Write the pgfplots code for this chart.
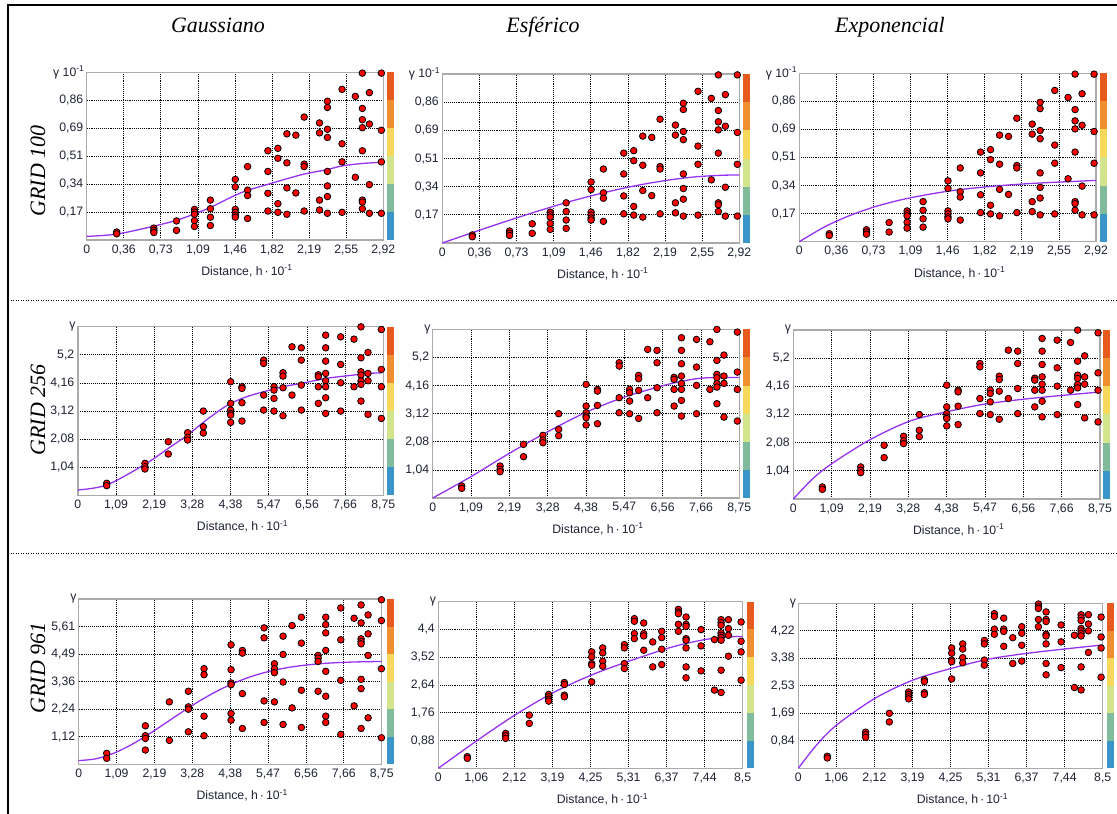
\documentclass[border=0pt]{standalone}
\usepackage{fontspec}
\setmainfont{Liberation Sans}
\newfontfamily\serifit{Liberation Serif}
\usepackage{pgfplots}
\usepackage{pgfplotstable}
\pgfplotsset{compat=1.18}
\definecolor{framegray}{RGB}{170,170,170}
\definecolor{tickcol}{RGB}{30,34,50}
\definecolor{curvecol}{RGB}{150,50,240}
\definecolor{cb1}{RGB}{58,150,200}
\definecolor{cb2}{RGB}{128,188,156}
\definecolor{cb3}{RGB}{211,229,140}
\definecolor{cb4}{RGB}{246,217,90}
\definecolor{cb5}{RGB}{239,143,47}
\definecolor{cb6}{RGB}{230,90,30}

\pgfplotstableread{
h g
0.295 0.049
0.295 0.038
0.661 0.073
0.661 0.059
0.661 0.046
0.884 0.117
0.884 0.059
1.061 0.188
1.061 0.172
1.061 0.158
1.061 0.119
1.061 0.083
1.218 0.245
1.218 0.192
1.218 0.140
1.218 0.089
1.463 0.372
1.463 0.326
1.463 0.188
1.463 0.170
1.463 0.152
1.463 0.140
1.584 0.451
1.584 0.306
1.584 0.273
1.584 0.132
1.784 0.548
1.784 0.421
1.784 0.287
1.784 0.178
1.882 0.563
1.882 0.502
1.882 0.223
1.882 0.170
1.971 0.652
1.971 0.474
1.971 0.320
1.971 0.158
2.059 0.644
2.059 0.289
2.141 0.755
2.141 0.466
2.141 0.451
2.141 0.178
2.292 0.719
2.292 0.658
2.292 0.245
2.292 0.184
2.370 0.852
2.370 0.814
2.370 0.680
2.370 0.630
2.370 0.421
2.370 0.332
2.370 0.267
2.370 0.164
2.514 0.925
2.514 0.591
2.514 0.480
2.514 0.170
2.645 0.882
2.645 0.385
2.714 1.025
2.714 0.808
2.714 0.739
2.714 0.690
2.714 0.548
2.714 0.245
2.714 0.233
2.714 0.192
2.783 0.905
2.783 0.712
2.783 0.340
2.783 0.164
2.901 1.025
2.901 0.674
2.901 0.480
2.901 0.164
}\rowone

\pgfplotstableread{
h g
0.828 0.444
0.828 0.357
1.923 1.183
1.923 1.060
1.923 0.973
2.592 1.984
2.592 1.528
3.146 2.317
3.146 2.144
3.146 2.045
3.595 3.117
3.595 2.538
3.595 2.304
4.378 4.202
4.378 3.401
4.378 3.154
4.378 3.031
4.378 2.970
4.378 2.699
4.702 4.017
4.702 3.955
4.702 3.426
4.702 2.748
5.323 5.003
5.323 4.880
5.323 3.709
5.323 3.154
5.619 4.017
5.619 3.894
5.619 3.586
5.619 3.117
5.877 4.535
5.877 4.411
5.877 3.980
5.877 2.945
6.135 5.496
6.135 3.709
6.402 5.459
6.402 5.003
6.402 4.079
6.402 3.154
6.889 4.460
6.889 4.387
6.889 4.017
6.889 3.401
7.099 5.927
7.099 5.459
7.099 4.966
7.099 4.510
7.099 4.239
7.099 4.017
7.099 3.610
7.099 3.031
7.529 5.865
7.529 4.843
7.529 4.165
7.529 3.117
7.911 5.779
7.911 4.017
8.111 6.235
8.111 5.089
8.111 4.572
8.111 4.450
8.111 4.227
8.111 4.103
8.111 3.487
8.312 5.286
8.312 4.510
8.312 4.239
8.312 2.994
8.694 6.136
8.694 4.658
8.694 4.017
8.694 2.846
}\rowtwo

\pgfplotstableread{
h g
0.809 0.446
0.809 0.243
1.926 1.568
1.926 1.162
1.926 1.054
1.926 0.581
2.619 2.541
2.619 0.973
3.168 2.973
3.168 2.338
3.168 2.243
3.168 1.324
3.620 3.892
3.620 3.649
3.620 1.960
3.620 1.162
4.400 4.865
4.400 3.851
4.400 3.311
4.400 3.243
4.400 2.068
4.400 1.797
4.727 4.635
4.727 4.527
4.727 2.878
4.727 1.459
5.353 5.554
5.353 5.149
5.353 2.581
5.353 1.703
5.652 4.095
5.652 3.892
5.652 3.730
5.652 2.541
5.902 5.216
5.902 4.473
5.902 3.351
5.902 1.622
6.162 5.649
6.162 2.297
6.431 5.987
6.431 4.933
6.431 3.014
6.431 1.500
6.913 4.433
6.913 4.324
6.913 4.189
6.913 2.973
7.134 5.987
7.134 5.689
7.134 5.351
7.134 4.635
7.134 3.784
7.134 2.770
7.134 1.960
7.134 1.703
7.568 6.365
7.568 5.068
7.568 3.419
7.568 1.216
7.953 5.946
7.953 2.378
8.155 6.487
8.155 5.757
8.155 5.108
8.155 5.000
8.155 4.905
8.155 3.459
8.155 3.081
8.155 1.459
8.357 6.081
8.357 5.311
8.357 4.433
8.357 1.892
8.742 6.700
8.742 5.851
8.742 3.892
8.742 1.081
}\gridgauss

\pgfplotstableread{
h g
0.810 0.369
0.810 0.316
1.881 1.107
1.881 1.033
1.881 0.949
2.542 1.686
2.542 1.423
3.082 2.340
3.082 2.266
3.082 2.192
3.082 2.129
3.520 2.719
3.520 2.656
3.520 2.319
3.520 2.266
4.283 3.689
4.283 3.531
4.283 3.320
4.283 3.267
4.283 2.740
4.591 3.815
4.591 3.657
4.591 3.394
4.591 3.235
5.196 3.920
5.196 3.815
5.196 3.320
5.196 3.162
5.475 4.743
5.475 4.658
5.475 4.268
5.475 4.110
5.736 4.605
5.736 4.268
5.736 4.195
5.736 3.741
5.988 4.005
5.988 3.214
6.239 4.342
6.239 4.142
6.239 3.773
6.239 3.288
6.705 5.038
6.705 4.953
6.705 4.901
6.705 4.563
6.705 4.342
6.919 4.795
6.919 4.563
6.919 4.500
6.919 4.110
6.919 4.057
6.919 3.815
6.919 3.214
6.919 2.867
7.338 4.395
7.338 3.878
7.338 3.088
7.710 4.079
7.710 2.477
7.897 4.711
7.897 4.616
7.897 4.532
7.897 4.289
7.897 4.216
7.897 4.142
7.897 4.058
7.897 3.109
7.897 2.403
8.101 4.711
8.101 4.426
8.101 4.216
8.101 3.552
8.455 4.637
8.455 4.026
8.455 3.689
8.455 2.793
}\gridthree

\pgfplotsset{
 vario/.style={
  anchor=south west, scale only axis, clip=false, xmin=0, ymin=0,
  axis line style={draw=framegray, line width=1.4bp},
  xmajorgrids, ymajorgrids,
  major grid style={black, line width=0.75bp, dash pattern=on 0.8bp off 1.1bp},
  major tick length=0pt,
  tick style={draw=none},
  ticklabel style={font=\fontsize{12.3}{14}\selectfont, text=tickcol},
  xticklabel style={yshift=-1bp},
  xlabel={Distance, h\,·\,10\textsuperscript{-1}},
  xlabel style={font=\fontsize{12.3}{14}\selectfont, text=tickcol, at={(axis description cs:0.5,0)}, anchor=center, yshift=-31bp, xshift=12bp},
 },
 pts/.style={only marks, mark=*, mark size=3.3bp, mark options={fill=red, draw=black, line width=0.8bp}},
 crv/.style={no marks, curvecol, line width=1.3bp, smooth},
 rA/.style={xmax=2.92, ymax=1.03,
  xtick={0,0.365,0.73,1.095,1.46,1.825,2.19,2.555,2.92},
  xticklabels={0,{0,36},{0,73},{1,09},{1,46},{1,82},{2,19},{2,55},{2,92}},
  ytick={0.1717,0.3433,0.515,0.6867,0.8583},
  yticklabels={{0,17},{0,34},{0,51},{0,69},{0,86}}},
 xB/.style={xmax=8.75,
  xtick={0,1.09375,2.1875,3.28125,4.375,5.46875,6.5625,7.65625,8.75},
  xticklabels={0,{1,09},{2,19},{3,28},{4,38},{5,47},{6,56},{7,66},{8,75}}},
 rB/.style={xB, ymax=6.24,
  ytick={1.04,2.08,3.12,4.16,5.2},
  yticklabels={{1,04},{2,08},{3,12},{4,16},{5,2}}},
 xC/.style={xmax=8.5,
  xtick={0,1.0625,2.125,3.1875,4.25,5.3125,6.375,7.4375,8.5},
  xticklabels={0,{1,06},{2,12},{3,19},{4,25},{5,31},{6,37},{7,44},{8,5}}},
}
\newcommand\gl[1]{\node[anchor=east, inner sep=2bp, font=\fontsize{12.3}{14}\selectfont, text=tickcol] at (rel axis cs:0,1) {#1};}
\newcommand\cbar[4]{\foreach \c [count=\i from 0] in {cb1,cb2,cb3,cb4,cb5,cb6}{\fill[\c] ({#1*1bp},{(#2+\i*#4/6)*1bp}) rectangle ({(#1+#3)*1bp},{(#2+(\i+1)*#4/6)*1bp});}}

\begin{document}
\begin{tikzpicture}
\path[use as bounding box] (0bp,0bp) rectangle (1117bp,814bp);
\draw[line width=1.3bp] (8bp,0bp) -- (8bp,809bp) -- (1117bp,809bp);
\draw[line width=0.9bp, dash pattern=on 1bp off 1.5bp] (8bp,514bp) -- (1117bp,514bp);
\draw[line width=0.9bp, dash pattern=on 1bp off 1.5bp] (8bp,261bp) -- (1117bp,261bp);

\begin{scope}[font=\serifit\itshape\fontsize{22}{26}\selectfont]
\node[anchor=base] at (218bp,781.5bp) {Gaussiano};
\node[anchor=base] at (543bp,781.5bp) {Esférico};
\node[anchor=base] at (890bp,781.5bp) {Exponencial};
\node[anchor=base, rotate=90] at (45bp,643bp) {GRID 100};
\node[anchor=base, rotate=90] at (45bp,404bp) {GRID 256};
\node[anchor=base, rotate=90] at (45bp,146bp) {GRID 961};
\end{scope}

% ---------- Row 1 ----------
\begin{axis}[vario, rA, at={(86.7bp,574bp)}, width=296.6bp, height=167.7bp]
\gl{γ 10\textsuperscript{-1}}
\addplot[crv] coordinates {(0,0.022) (0.295,0.036) (0.661,0.085) (0.884,0.121) (1.061,0.160) (1.218,0.200) (1.463,0.275) (1.584,0.305) (1.784,0.342) (1.971,0.376) (2.141,0.405) (2.370,0.433) (2.514,0.455) (2.714,0.470) (2.92,0.478)};
\addplot[pts] table[x=h,y=g] {\rowone};
\end{axis}
\cbar{387}{574}{7}{167.7}

\begin{axis}[vario, rA, at={(442.3bp,571bp)}, width=297bp, height=168.9bp]
\gl{γ 10\textsuperscript{-1}}
\addplot[crv] coordinates {(0,0) (0.25,0.0535) (0.5,0.106) (0.75,0.157) (1.0,0.206) (1.25,0.252) (1.5,0.293) (1.75,0.330) (2.0,0.361) (2.25,0.386) (2.5,0.404) (2.75,0.413) (2.92,0.415)};
\addplot[pts] table[x=h,y=g] {\rowone};
\end{axis}
\cbar{743}{571}{7}{168.9}

\begin{axis}[vario, rA, at={(799.3bp,572.3bp)}, width=296.7bp, height=168.4bp]
\gl{γ 10\textsuperscript{-1}}
\addplot[crv] coordinates {(0,0) (0.25,0.091) (0.5,0.161) (0.75,0.215) (1.0,0.256) (1.25,0.287) (1.5,0.312) (1.75,0.330) (2.0,0.344) (2.25,0.355) (2.5,0.363) (2.75,0.370) (2.92,0.375)};
\addplot[pts] table[x=h,y=g] {\rowone};
\end{axis}
\cbar{1100}{572.3}{7}{168.4}

% ---------- Row 2 ----------
\begin{axis}[vario, rB, at={(77.8bp,318.7bp)}, width=305.5bp, height=168.6bp]
\gl{γ}
\addplot[crv] coordinates {(0,0.197) (0.828,0.38) (1.923,1.146) (2.592,1.737) (3.146,2.23) (3.595,2.70) (4.073,3.154) (4.378,3.40) (4.837,3.65) (5.323,3.83) (5.877,4.02) (6.402,4.14) (7.099,4.325) (7.70,4.42) (8.312,4.51) (8.694,4.53)};
\addplot[pts] table[x=h,y=g] {\rowtwo};
\end{axis}
\cbar{387}{318.7}{7}{168.6}

\begin{axis}[vario, rB, at={(432.7bp,316bp)}, width=306.6bp, height=168.7bp]
\gl{γ}
\addplot[crv] coordinates {(0,0) (1.094,0.79) (2.188,1.654) (3.291,2.456) (4.375,3.172) (5.459,3.728) (6.553,4.148) (7.152,4.33) (7.646,4.43) (8.102,4.456) (8.75,4.456)};
\addplot[pts] table[x=h,y=g] {\rowtwo};
\end{axis}
\cbar{743}{316}{7}{168.7}

\begin{axis}[vario, rB, at={(793.3bp,315bp)}, width=306.7bp, height=169bp]
\gl{γ}
\addplot[crv] coordinates {(0,0) (0.571,0.77) (1.122,1.325) (2.188,2.19) (3.31,2.87) (4.375,3.22) (5.44,3.50) (6.535,3.68) (7.63,3.82) (8.75,3.95)};
\addplot[pts] table[x=h,y=g] {\rowtwo};
\end{axis}
\cbar{1103}{315}{7}{169}

% ---------- Row 3 ----------
\begin{axis}[vario, xB, ymax=6.73, at={(78.7bp,49.7bp)}, width=303bp, height=165.3bp,
  ytick={1.1217,2.2433,3.365,4.4867,5.6083},
  yticklabels={{1,12},{2,24},{3,36},{4,49},{5,61}}]
\gl{γ}
\addplot[crv] coordinates {(0,0.15) (0.5,0.225) (1.0,0.444) (1.5,0.781) (2.0,1.202) (2.5,1.669) (3.0,2.142) (3.5,2.588) (4.0,2.985) (4.5,3.317) (5.0,3.582) (5.5,3.784) (6.0,3.93) (6.5,4.031) (7.0,4.098) (7.5,4.141) (8.0,4.167) (8.75,4.187)};
\addplot[pts] table[x=h,y=g] {\gridgauss};
\end{axis}
\cbar{387}{49.7}{7}{165.3}

\begin{axis}[vario, xC, ymax=5.28, at={(438.3bp,45.7bp)}, width=304.4bp, height=166.6bp,
  ytick={0.88,1.76,2.64,3.52,4.4},
  yticklabels={{0,88},{1,76},{2,64},{3,52},{4,4}}]
\gl{γ}
\addplot[crv] coordinates {(0,0) (1.071,0.87) (2.142,1.69) (3.213,2.40) (4.283,2.96) (5.336,3.40) (6.397,3.80) (6.937,3.96) (7.45,4.08) (7.962,4.16) (8.5,4.18)};
\addplot[pts] table[x=h,y=g] {\gridthree};
\end{axis}
\cbar{747}{45.7}{6.5}{166.6}

\begin{axis}[vario, xC, ymax=5.06, at={(798.3bp,45.7bp)}, width=304.4bp, height=165bp,
  ytick={0.8433,1.6867,2.53,3.3733,4.2167},
  yticklabels={{0,84},{1,69},{2,53},{3,38},{4,22}}]
\gl{γ}
\addplot[crv] coordinates {(0,0) (0.512,0.716) (1.071,1.329) (2.142,2.147) (3.213,2.71) (4.283,3.067) (5.336,3.353) (6.397,3.527) (7.45,3.66) (8.5,3.783)};
\addplot[pts] table[x=h,y=g] {\gridthree};
\end{axis}
\cbar{1107}{45.7}{6.5}{165}
\end{tikzpicture}
\end{document}
